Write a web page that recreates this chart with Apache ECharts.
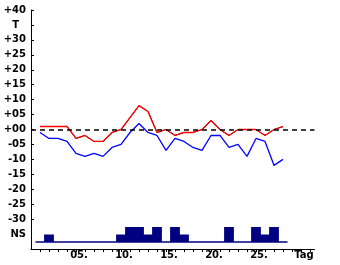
<!DOCTYPE html>
<html><head><meta charset="utf-8">
<script src="https://cdn.jsdelivr.net/npm/echarts@6/dist/echarts.min.js"></script>
<style>html,body{margin:0;padding:0;background:#fff}#c{width:340px;height:265px}</style>
</head><body><div id="c"></div>
<script>
var days = [1,2,3,4,5,6,7,8,9,10,11,12,13,14,15,16,17,18,19,20,21,22,23,24,25,26,27,28];
var tMax = [1,1,1,1,-3,-2,-4,-4,-1,0,4,8,6,-1,0,-2,-1,-1,0,3,0,-2,0,0,0,-2,0,1];
var tMean = [1,1,1,1,-3,-2,-4,-4,-1,0,4,8,6,-1,0,-2,-1,-1,0,3,0,-2,0,0,0,-2,0,1];
var tMin = [-1,-3,-3,-4,-8,-9,-8,-9,-6,-5,-1,2,-1,-2,-7,-3,-4,-6,-7,-2,-2,-6,-5,-9,-3,-4,-12,-10];
var ns = [0,1,0,0,0,0,0,0,0,1,2,2,1,2,0,2,1,0,0,0,0,2,0,0,2,1,2,0];
var xLabelDays = [5,10,15,20,25,30];
var yLabelVals = [40,35,30,25,20,15,10,5,0,-5,-10,-15,-20,-25,-30,-35];

function pair(vals){ return days.map(function(d,i){ return [d, vals[i]]; }); }
var font = {fontFamily:'DejaVu Sans', fontWeight:'bold', fontSize:10, color:'#000'};
var tickDays = []; for (var i=1;i<=31;i++) tickDays.push(i);
var yTicks = yLabelVals.filter(function(v){return v!==-35;});

var chart = echarts.init(document.getElementById('c'), null, {renderer:'canvas'});
chart.setOption({
  animation:false,
  backgroundColor:'#fff',
  grid:[{left:31,right:25.5,top:10,bottom:16},{left:31,right:25.5,top:227,bottom:23}],
  xAxis:[{
    type:'value', min:0, max:31.5, gridIndex:0,
    axisLine:{show:true,onZero:false,lineStyle:{color:'#000',width:1}},
    axisTick:{show:true,inside:false,length:3,customValues:tickDays,lineStyle:{color:'#000'}},
    axisLabel:Object.assign({customValues:xLabelDays,margin:1,padding:[0,0,0,6],
      formatter:function(v){ if(v===30) return 'Tag'; return (v<10?'0'+v:''+v)+'.'; }}, font),
    splitLine:{show:false}
  },{
    type:'value', min:0, max:31.5, gridIndex:1, show:false
  }],
  yAxis:[{
    type:'value', min:-40, max:40, gridIndex:0,
    axisLine:{show:true,onZero:false,lineStyle:{color:'#000',width:1}},
    axisTick:{show:true,inside:true,length:3,customValues:yTicks,lineStyle:{color:'#000'}},
    axisLabel:Object.assign({customValues:yLabelVals,margin:5,
      formatter:function(v){
        if(v===35) return 'T\u2007';
        if(v===-35) return 'NS';
        var a=Math.abs(v); var s=(a<10?'0'+a:''+a);
        return (v<0?'-':'+')+s;
      }}, font),
    splitLine:{show:false}
  },{
    type:'value', min:0, max:2, gridIndex:1, show:false
  }],
  series:[
    {type:'line', xAxisIndex:0, yAxisIndex:0, data:pair(tMean), symbol:'none',
     lineStyle:{color:'#000',width:1}, z:2,
     markLine:{silent:true,symbol:'none',label:{show:false},
       lineStyle:{color:'#000',type:[5,4],width:1.5},data:[{yAxis:0}]}},
    {type:'line', xAxisIndex:0, yAxisIndex:0, data:pair(tMax), symbol:'none',
     lineStyle:{color:'#ff0000',width:1.3}, z:3},
    {type:'line', xAxisIndex:0, yAxisIndex:0, data:pair(tMin), symbol:'none',
     lineStyle:{color:'#0000ff',width:1.3}, z:3},
    {type:'bar', xAxisIndex:1, yAxisIndex:1, data:pair(ns), barWidth:9.8,
     itemStyle:{color:'#000080'}},
    {type:'line', xAxisIndex:1, yAxisIndex:1, data:[[0.5,0],[28.5,0]], symbol:'none', clip:false,
     lineStyle:{color:'#000080',width:1.5}, z:4}
  ]
});
</script></body></html>
